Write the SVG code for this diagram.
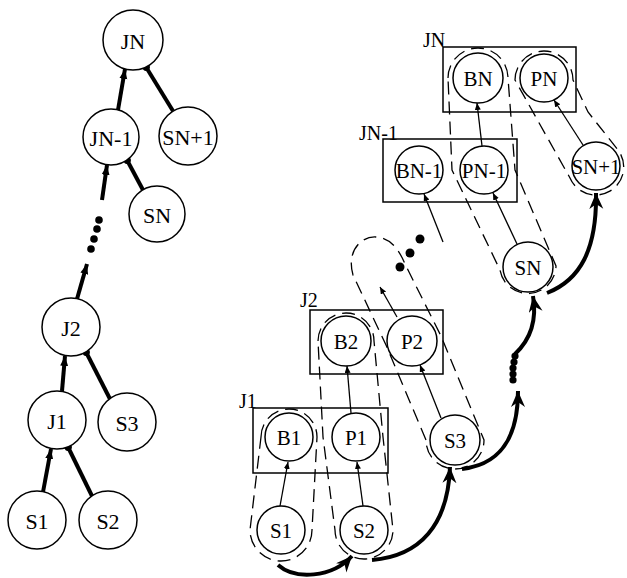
<svg xmlns="http://www.w3.org/2000/svg" width="627" height="578" viewBox="0 0 627 578">
<style>
.n circle{fill:#fff;stroke:#000;stroke-width:1.5}
text{font-family:"Liberation Serif","Times New Roman",serif;font-size:21px;fill:#000}
.n text{text-anchor:middle;dominant-baseline:central}
.lt text{font-size:22px}
.lbl{font-size:20px}
.box{fill:none;stroke:#000;stroke-width:1.5}
.thk{stroke:#000;stroke-width:4;fill:none}
.thin{stroke:#000;stroke-width:1.3;fill:none}
.dsh{stroke:#000;stroke-width:1.3;fill:none;stroke-dasharray:13 7}
.dot{fill:#000}
</style>
<defs>
<marker id="big" markerUnits="userSpaceOnUse" markerWidth="18" markerHeight="16" refX="16" refY="7" orient="auto">
<path d="M0,0 L16,7 L0,14 L5,7 Z" fill="#000"/>
</marker>
<marker id="mid" markerUnits="userSpaceOnUse" markerWidth="12" markerHeight="10" refX="10" refY="4" orient="auto">
<path d="M0,0 L10,4 L0,8 Z" fill="#000"/>
</marker>
<marker id="sm" markerUnits="userSpaceOnUse" markerWidth="8" markerHeight="8" refX="7" refY="3" orient="auto">
<path d="M0,0 L7,3 L0,6 Z" fill="#000"/>
</marker>
<marker id="bd" markerUnits="userSpaceOnUse" markerWidth="10" markerHeight="10" refX="5" refY="5" orient="auto">
<circle cx="5" cy="5" r="3.8" fill="#000"/>
</marker>
</defs>

<!-- boxes -->
<g id="box-J1"><rect class="box" x="253" y="408" width="135" height="65"/><text class="lbl" x="239" y="408">J1</text></g>
<g id="box-J2"><rect class="box" x="310" y="310" width="133" height="64"/><text class="lbl" x="300" y="307">J2</text></g>
<g id="box-JN-1"><rect class="box" x="383" y="139" width="134" height="63"/><text class="lbl" x="359" y="140">JN-1</text></g>
<g id="box-JN"><rect class="box" x="443" y="47" width="133" height="65"/><text class="lbl" x="423" y="47">JN</text></g>

<!-- dashed loops -->
<g id="loops">
<path class="dsh" d="M261,437 A28,28 0 0 1 317,437 L312,530 A31,31 0 0 1 250,530 Z"/>
<path class="dsh" d="M318,341 A28,28 0 0 1 374,341 L383,437 L393,530 A29,29 0 0 1 335,530 L323,437 Z"/>
<path class="dsh" d="M426,440 L386,345 L353,275 C346,250 362,236 376,237 C392,238 400,252 405,264 L441,336 L484,440 A29,29 0 0 1 426,440 Z"/>
<path class="dsh" d="M448,78 A30,30 0 0 1 508,78 L515,170 L556,266 A28.2,28.2 0 0 1 500,270 L452,170 Z"/>
<path class="dsh" d="M515,80 A29,29 0 0 1 573,80 L588,112 L618,150 A28,28 0 1 1 570,178 Z"/>
</g>

<!-- connectors -->
<g id="connectors">
<!-- left tree -->
<line class="thk" x1="118" y1="110" x2="125" y2="69" marker-end="url(#mid)"/>
<line class="thk" x1="173" y1="111" x2="146" y2="67" marker-end="url(#bd)"/>
<line class="thk" x1="102" y1="200" x2="107" y2="165" marker-end="url(#mid)"/>
<line class="thk" x1="143" y1="190" x2="127" y2="160" marker-end="url(#bd)"/>
<line class="thk" x1="77" y1="299" x2="87" y2="264" marker-end="url(#mid)"/>
<line class="thk" x1="62" y1="391" x2="65" y2="356" marker-end="url(#mid)"/>
<line class="thk" x1="110" y1="399" x2="86" y2="352" marker-end="url(#bd)"/>
<line class="thk" x1="43" y1="492" x2="51" y2="449" marker-end="url(#mid)"/>
<line class="thk" x1="92" y1="496" x2="68" y2="447" marker-end="url(#bd)"/>
<circle class="dot" cx="99" cy="220" r="3.8"/>
<circle class="dot" cx="97" cy="229" r="3.8"/>
<circle class="dot" cx="94" cy="239" r="3.8"/>
<circle class="dot" cx="91" cy="249" r="3.8"/>
<!-- right thin -->
<line class="thin" x1="280" y1="506" x2="288" y2="462" marker-end="url(#sm)"/>
<line class="thin" x1="363" y1="506" x2="357" y2="462" marker-end="url(#sm)"/>
<line class="thin" x1="351" y1="413" x2="347" y2="366" marker-end="url(#sm)"/>
<line class="thin" x1="441" y1="418" x2="420" y2="365" marker-end="url(#sm)"/>
<line class="thin" x1="397" y1="317" x2="380" y2="287" marker-end="url(#sm)"/>
<line class="thin" x1="443" y1="242" x2="424" y2="194" marker-end="url(#sm)"/>
<line class="thin" x1="517" y1="244" x2="493" y2="193" marker-end="url(#sm)"/>
<line class="thin" x1="482" y1="146" x2="477" y2="103" marker-end="url(#sm)"/>
<line class="thin" x1="583" y1="145" x2="554" y2="100" marker-end="url(#sm)"/>
<circle class="dot" cx="420" cy="239" r="4.5"/>
<circle class="dot" cx="410" cy="253" r="4.5"/>
<circle class="dot" cx="400" cy="267" r="4.5"/>
<!-- right thick -->
<path class="thk" d="M278,565 C295,580 332,578 352,556" marker-end="url(#big)"/>
<path class="thk" d="M372,560 C420,556 448,525 450,467" marker-end="url(#big)"/>
<path class="thk" d="M462,469 C495,465 518,445 518,391" marker-end="url(#big)"/>
<path class="thk" d="M515,354 C530,340 537,320 533,296" marker-end="url(#big)"/>
<path class="thk" d="M547,293 C580,280 597,250 596,193" marker-end="url(#big)"/>
<circle class="dot" cx="515" cy="356" r="3.6"/>
<circle class="dot" cx="514" cy="362" r="3.6"/>
<circle class="dot" cx="513" cy="368" r="3.6"/>
<circle class="dot" cx="513" cy="374" r="3.6"/>
<circle class="dot" cx="513" cy="380" r="3.6"/>
</g>

<!-- left tree nodes -->
<g class="lt">
<g id="t-JN" class="n"><circle cx="133" cy="40" r="30"/><text x="133" y="41">JN</text></g>
<g id="t-JN-1" class="n"><circle cx="111" cy="137" r="28"/><text x="111" y="138">JN-1</text></g>
<g id="t-SN1" class="n"><circle cx="188" cy="136" r="29"/><text x="188" y="137">SN+1</text></g>
<g id="t-SN" class="n"><circle cx="157" cy="214" r="28"/><text x="157" y="215">SN</text></g>
<g id="t-J2" class="n"><circle cx="71" cy="327" r="29"/><text x="71" y="328">J2</text></g>
<g id="t-J1" class="n"><circle cx="57" cy="420" r="29"/><text x="57" y="421">J1</text></g>
<g id="t-S3" class="n"><circle cx="127" cy="422" r="29"/><text x="127" y="423">S3</text></g>
<g id="t-S1" class="n"><circle cx="37" cy="520" r="29"/><text x="37" y="521">S1</text></g>
<g id="t-S2" class="n"><circle cx="108" cy="520" r="29"/><text x="108" y="521">S2</text></g>
</g>

<!-- right nodes -->
<g id="r-B1" class="n"><circle cx="289" cy="437" r="24"/><text x="289" y="438">B1</text></g>
<g id="r-P1" class="n"><circle cx="356" cy="437" r="24"/><text x="356" y="438">P1</text></g>
<g id="r-S1" class="n"><circle cx="281" cy="530" r="24"/><text x="281" y="531">S1</text></g>
<g id="r-S2" class="n"><circle cx="364" cy="530" r="24"/><text x="364" y="531">S2</text></g>
<g id="r-S3" class="n"><circle cx="455" cy="440" r="25"/><text x="455" y="441">S3</text></g>
<g id="r-B2" class="n"><circle cx="346" cy="341" r="25"/><text x="346" y="342">B2</text></g>
<g id="r-P2" class="n"><circle cx="412" cy="341" r="25"/><text x="412" y="342">P2</text></g>
<g id="r-BN-1" class="n"><circle cx="419" cy="170" r="24"/><text x="419" y="171">BN-1</text></g>
<g id="r-PN-1" class="n"><circle cx="484" cy="170" r="24"/><text x="484" y="171">PN-1</text></g>
<g id="r-BN" class="n"><circle cx="478" cy="78" r="25"/><text x="478" y="79">BN</text></g>
<g id="r-PN" class="n"><circle cx="544" cy="78" r="24"/><text x="544" y="79">PN</text></g>
<g id="r-SN" class="n"><circle cx="528" cy="267" r="25"/><text x="528" y="268">SN</text></g>
<g id="r-SN1" class="n"><circle cx="596" cy="166" r="24"/><text x="596" y="167">SN+1</text></g>
</svg>
